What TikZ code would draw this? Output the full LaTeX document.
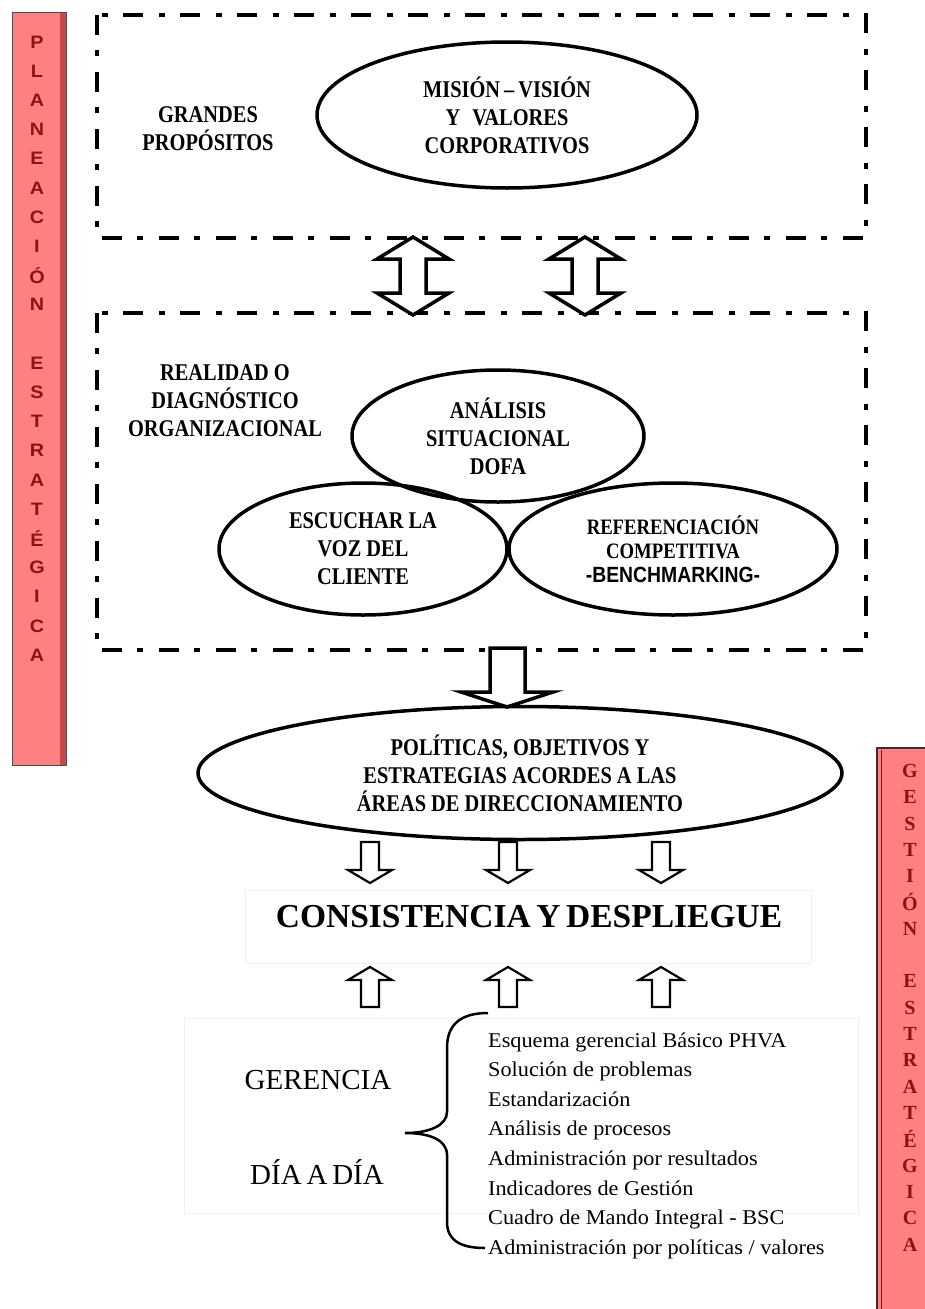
\documentclass[tikz,border=0pt]{standalone}
\usepackage{fontspec}
\setmainfont{Liberation Serif}
\newfontfamily\condfont[FakeStretch=0.85]{Liberation Serif}
\newfontfamily\sansfont[FakeStretch=1.1]{Liberation Sans}
\newfontfamily\sanscond[FakeStretch=0.88]{Liberation Sans}
\newfontfamily\listafont[FakeStretch=1.06]{Liberation Serif}
\usetikzlibrary{shapes.geometric}
\definecolor{salmon}{HTML}{FF8080}
\definecolor{salmonosc}{HTML}{C84848}
\definecolor{rojoosc}{HTML}{8A1414}
\newcommand{\mayus}{\condfont\bfseries\fontsize{24}{28}\selectfont}
\begin{document}
\begin{tikzpicture}[x=1pt,y=-1pt,
	caja/.style={line width=4.8pt,dash pattern=on 20pt off 15pt on 6pt off 16pt},
	elipse/.style={ellipse,draw,line width=3.5pt,inner sep=0pt,align=center,font=\mayus},
	texto/.style={align=center,inner sep=0pt,font=\mayus},
	flecha/.style={draw,line width=3.5pt,fill=white,line join=miter},
	flechita/.style={draw,line width=2.2pt,fill=white,line join=miter},
	letra/.style={inner sep=0pt,text=rojoosc,font=\sansfont\bfseries\fontsize{18}{18}\selectfont},
	renglon/.style={anchor=base west,inner sep=0pt,font=\listafont\fontsize{21}{21}\selectfont},
	grande/.style={anchor=base,inner sep=0pt,font=\fontsize{29}{29}\selectfont},
	tenue/.style={draw=gray!12,line width=0.8pt}]
	\useasboundingbox (0,0) rectangle (924,1309);
	
	% barras laterales
	\draw[fill=salmon,draw=black!70,line width=1pt] (12,12) rectangle (66,765);
	\fill[salmonosc] (60,12.5) rectangle (65.5,764.5);
	\foreach \l [count=\k] in {P,L,A,N,E,A,C,I,Ó,N,{},E,S,T,R,A,T,É,G,I,C,A}
	\node[letra] (izq\k) at (37,{42+(\k-1)*29.2}) {\l};
	\draw[fill=salmon,draw=black!80,line width=1.2pt] (877,748) rectangle (930,1315);
	\draw[rojoosc,line width=1pt] (881,750) -- (881,1309);
	\foreach \l [count=\k] in {G,E,S,T,I,Ó,N,{},E,S,T,R,A,T,É,G,I,C,A}
	\node[letra,font=\bfseries\fontsize{20}{20}\selectfont] (der\k) at (910,{771+(\k-1)*26.3}) {\l};
	
	% planeacion
	\draw[caja] (97,15) rectangle (866,238);
	\draw[caja] (97,313) rectangle (866,650);
	\node[texto] (grandes) at (208,129) {GRANDES\\PROPÓSITOS};
	\node[elipse,minimum width=380pt,minimum height=146pt] (mision) at (507,115) {MISIÓN\,–\,VISIÓN\\Y\enspace VALORES\\CORPORATIVOS};
	\foreach \cx in {413,585}
	\draw[flecha] (\cx,237) -- ({\cx+36},259) -- ({\cx+13},259) -- ({\cx+13},293) -- ({\cx+36},293) -- (\cx,315) -- ({\cx-36},293) -- ({\cx-13},293) -- ({\cx-13},259) -- ({\cx-36},259) -- cycle;
	\node[texto] (realidad) at (225,401) {REALIDAD O\\DIAGNÓSTICO\\ORGANIZACIONAL};
	\node[elipse,minimum width=292pt,minimum height=132pt] (analisis) at (498,436) {ANÁLISIS\\SITUACIONAL\\DOFA};
	\node[elipse,minimum width=288pt,minimum height=132pt] (escuchar) at (363,549) {ESCUCHAR LA\\VOZ DEL\\CLIENTE};
	\node[elipse,minimum width=328pt,minimum height=132pt,font=\condfont\bfseries\fontsize{22}{24}\selectfont] (referencia) at (673,549) {REFERENCIACIÓN\\COMPETITIVA\\{\sanscond -BENCHMARKING-}};
	\draw[flecha] (490,648) -- (525,648) -- (525,692) -- (553,692) -- (507,707) -- (461,692) -- (490,692) -- cycle;
	\node[elipse,minimum width=644pt,minimum height=133pt] (politicas) at (520,773) {POLÍTICAS, OBJETIVOS Y\\ESTRATEGIAS ACORDES A LAS\\ÁREAS DE DIRECCIONAMIENTO};
	
	% despliegue
	\foreach \cx in {370,508,661}
	\draw[flechita] ({\cx-9},842) -- ({\cx+9},842) -- ({\cx+9},870) -- ({\cx+22},870) -- (\cx,883) -- ({\cx-22},870) -- ({\cx-9},870) -- cycle;
	\draw[tenue] (245,890) rectangle (811,963);
	\node[inner sep=0pt,font=\bfseries\fontsize{33.5}{33.5}\selectfont] (consistencia) at (529,917) {CONSISTENCIA\,Y\,DESPLIEGUE};
	\foreach \cx in {370,508,661}
	\draw[flechita] (\cx,967) -- ({\cx+22},980) -- ({\cx+9},980) -- ({\cx+9},1007) -- ({\cx-9},1007) -- ({\cx-9},980) -- ({\cx-22},980) -- cycle;
	
	% gerencia dia a dia
	\draw[tenue] (184,1018) rectangle (858,1213);
	\node[grande] (gerencia) at (318,1089) {GERENCIA};
	\node[grande] (diaadia) at (317,1184) {DÍA\,A\,DÍA};
	\draw[line width=2.5pt] (488,1013) .. controls (460,1013) and (447,1025) .. (447,1048) -- (447,1112) .. controls (447,1125) and (430,1133) .. (405,1133) .. controls (430,1133) and (447,1140) .. (447,1155) -- (447,1222) .. controls (447,1240) and (460,1248) .. (485,1248);
	\foreach \txt [count=\k] in {Esquema gerencial Básico PHVA,Solución de problemas,Estandarización,Análisis de procesos,Administración por resultados,Indicadores de Gestión,Cuadro de Mando Integral - BSC,{Administración por políticas / valores}}
	\node[renglon] (renglon\k) at (488,{1047+(\k-1)*29.6}) {\txt};
\end{tikzpicture}
\end{document}
